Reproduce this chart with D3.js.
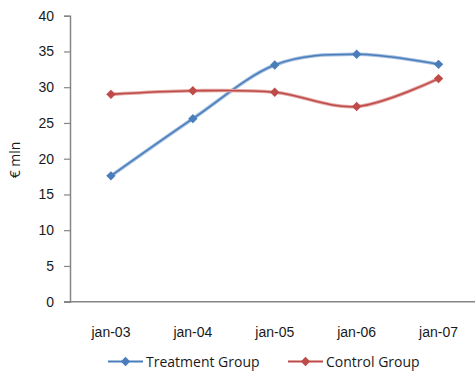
<!DOCTYPE html>
<html>
<head>
<meta charset="utf-8">
<script src="https://cdn.jsdelivr.net/npm/d3@7"></script>
<style>
  html, body { margin: 0; padding: 0; background: #fff; }
  svg { display: block; font-family: "Open Sans", "Liberation Sans", sans-serif; }
</style>
</head>
<body>
<svg id="chart" width="475" height="371"></svg>
<script>
// Annual values, € mln
const categories = ["jan-03", "jan-04", "jan-05", "jan-06", "jan-07"];
const treatment = [17.6, 25.6, 33.1, 34.6, 33.2];
const control = [29.0, 29.5, 29.3, 27.3, 31.2];
const yTicks = [0, 5, 10, 15, 20, 25, 30, 35, 40];
const seriesNames = ["Treatment Group", "Control Group"];
const seriesColors = ["#4A7EBB", "#BE4B48"];
const seriesLight = ["#A5BFE0", "#E3A9A7"];

const svg = d3.select("#chart");
const plotLeft = 70, plotRight = 479.5, plotTop = 15.7, plotBottom = 301.7;
const fontSize = "14px";
const textColor = "#1a1a1a";

const x = d3.scaleBand().domain(categories).range([plotLeft, plotRight]);
const y = d3.scaleLinear().domain([0, 40]).range([plotBottom, plotTop]);

// Y axis
const yAxis = svg.append("g")
  .attr("transform", `translate(${plotLeft},0)`)
  .call(d3.axisLeft(y).tickValues(yTicks).tickSize(6).tickPadding(10));
yAxis.select(".domain").attr("stroke", "#868686").attr("stroke-width", 1.5);
yAxis.selectAll(".tick line").attr("stroke", "#868686").attr("stroke-width", 1.2);
yAxis.selectAll(".tick text").attr("fill", textColor).style("font-size", fontSize);

// X axis
const xAxis = svg.append("g")
  .attr("transform", `translate(0,${plotBottom})`)
  .call(d3.axisBottom(x).tickSize(0).tickPadding(25));
xAxis.select(".domain").attr("d", `M${plotLeft - 6},0H${plotRight}`)
  .attr("stroke", "#868686").attr("stroke-width", 1.5);
xAxis.selectAll(".tick text").attr("fill", textColor).style("font-size", fontSize);

// Y axis title
svg.append("text")
  .attr("transform", `translate(20,160) rotate(-90)`)
  .attr("text-anchor", "middle")
  .attr("fill", textColor)
  .style("font-size", fontSize)
  .text("€ mln");

// Smoothed series lines with diamond markers
const line = d3.line()
  .x((d, i) => x(categories[i]) + x.bandwidth() / 2)
  .y(d => y(d))
  .curve(d3.curveCatmullRom.alpha(0));

const diamond = d3.symbol().type(d3.symbolSquare).size(44);

[treatment, control].forEach((vals, s) => {
  const g = svg.append("g");
  g.append("path").attr("d", line(vals))
    .attr("fill", "none").attr("stroke", seriesLight[s]).attr("stroke-width", 3.6);
  g.append("path").attr("d", line(vals))
    .attr("fill", "none").attr("stroke", seriesColors[s]).attr("stroke-width", 1.6);
  g.selectAll("path.m").data(vals).join("path")
    .attr("class", "m")
    .attr("d", diamond)
    .attr("transform", (d, i) => `translate(${x(categories[i]) + x.bandwidth() / 2},${y(d)}) rotate(45)`)
    .attr("fill", seriesColors[s]);
});

// Legend
const legendY = 361.5;
const legendX = [108, 288];
seriesNames.forEach((name, s) => {
  const g = svg.append("g").attr("transform", `translate(${legendX[s]},${legendY})`);
  g.append("line").attr("x1", 0).attr("x2", 35)
    .attr("stroke", seriesColors[s]).attr("stroke-width", 2.2);
  g.append("path").attr("d", diamond).attr("transform", "translate(17.5,0) rotate(45)")
    .attr("fill", seriesColors[s]);
  g.append("text").attr("x", 38).attr("dy", "0.36em")
    .attr("fill", textColor).style("font-size", fontSize).text(name);
});
</script>
</body>
</html>
